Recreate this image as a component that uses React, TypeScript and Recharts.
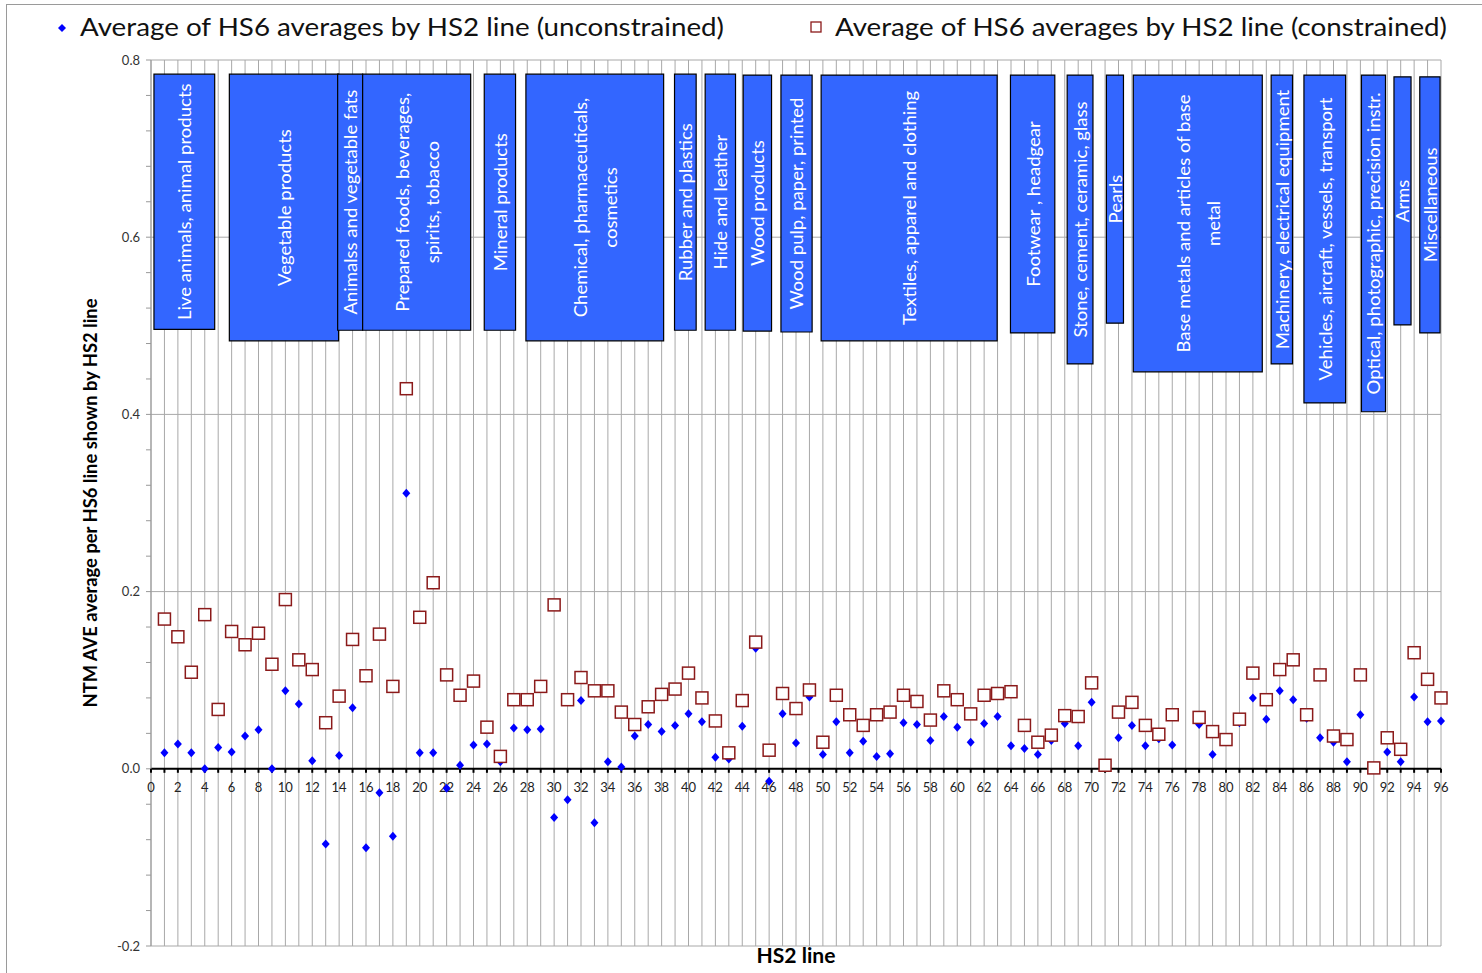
import React from "react";
import {
	CartesianGrid,
	Label,
	ReferenceArea,
	ReferenceDot,
	ReferenceLine,
	Scatter,
	ScatterChart,
	XAxis,
	YAxis,
} from "recharts";

// HS2 chapters 1..96
const hs2Lines = [
	1, 2, 3, 4, 5, 6, 7, 8, 9, 10, 11, 12, 13, 14, 15, 16, 17, 18, 19, 20, 21,
	22, 23, 24, 25, 26, 27, 28, 29, 30, 31, 32, 33, 34, 35, 36, 37, 38, 39, 40,
	41, 42, 43, 44, 45, 46, 47, 48, 49, 50, 51, 52, 53, 54, 55, 56, 57, 58, 59,
	60, 61, 62, 63, 64, 65, 66, 67, 68, 69, 70, 71, 72, 73, 74, 75, 76, 77, 78,
	79, 80, 81, 82, 83, 84, 85, 86, 87, 88, 89, 90, 91, 92, 93, 94, 95, 96,
];

// Average of HS6 averages by HS2 line (unconstrained)
const unconstrained: (number | null)[] = [
	0.018, 0.028, 0.018, 0.0, 0.024, 0.019, 0.037, 0.044, 0.0, 0.088, 0.073,
	0.009, -0.085, 0.015, 0.069, -0.089, -0.027, -0.076, 0.311, 0.018, 0.018,
	-0.022, 0.004, 0.027, 0.028, 0.008, 0.046, 0.044, 0.045, -0.055, -0.035,
	0.077, -0.061, 0.008, 0.002, 0.037, 0.05, 0.042, 0.049, 0.062, 0.053, 0.013,
	0.011, 0.048, 0.136, -0.014, 0.062, 0.029, 0.081, 0.016, 0.053, 0.018,
	0.031, 0.014, 0.017, 0.052, 0.05, 0.032, 0.059, 0.047, 0.03, 0.051, 0.059,
	0.026, 0.023, 0.016, 0.032, 0.051, 0.026, 0.075, 0.003, 0.035, 0.049,
	0.026, 0.034, 0.027, null, 0.05, 0.016, 0.031, 0.052, 0.08, 0.056, 0.088,
	0.078, 0.057, 0.035, 0.03, 0.008, 0.061, 0.0, 0.019, 0.008, 0.081, 0.053,
	0.054,
];

// Average of HS6 averages by HS2 line (constrained)
const constrained: (number | null)[] = [
	0.169, 0.149, 0.109, 0.174, 0.067, 0.155, 0.14, 0.153, 0.118, 0.191, 0.123,
	0.112, 0.052, 0.082, 0.146, 0.105, 0.152, 0.093, 0.429, 0.171, 0.21, 0.106,
	0.083, 0.099, 0.047, 0.014, 0.078, 0.078, 0.093, 0.185, 0.078, 0.103, 0.088,
	0.088, 0.064, 0.05, 0.07, 0.084, 0.09, 0.108, 0.08, 0.054, 0.018, 0.077,
	0.143, 0.021, 0.085, 0.068, 0.089, 0.03, 0.083, 0.061, 0.049, 0.061, 0.064,
	0.083, 0.076, 0.055, 0.088, 0.078, 0.062, 0.083, 0.085, 0.087, 0.049, 0.03,
	0.038, 0.06, 0.059, 0.097, 0.004, 0.064, 0.075, 0.049, 0.039, 0.061, null,
	0.058, 0.042, 0.033, 0.056, 0.108, 0.078, 0.112, 0.123, 0.061, 0.106, 0.037,
	0.033, 0.106, 0.001, 0.035, 0.022, 0.131, 0.101, 0.08,
];

// section boxes ("|" marks a line break)
const sectionLabels = [
	"Live animals, animal products",
	"Vegetable products",
	"Animalss and vegetable fats",
	"Prepared foods, beverages,|spirits, tobacco",
	"Mineral products",
	"Chemical, pharmaceuticals,|cosmetics",
	"Rubber and plastics",
	"Hide and  leather",
	"Wood products",
	"Wood pulp, paper, printed",
	"Textiles, apparel and clothing",
	"Footwear , headgear",
	"Stone, cement, ceramic, glass",
	"Pearls",
	"Base metals and articles of base|metal",
	"Machinery, electrical equipment",
	"Vehicles, aircraft, vessels, transport",
	"Optical, photographic, precision instr.",
	"Arms",
	"Miscellaneous",
];
const sectionStart = [
	0.22, 5.83, 13.89, 15.75, 24.8, 27.9, 38.96, 41.24, 44.07, 46.88, 49.87,
	63.96, 68.18, 71.1, 73.1, 83.36, 85.8, 90.08, 92.5, 94.42,
];
const sectionEnd = [
	4.74, 13.96, 15.75, 23.79, 27.13, 38.15, 40.57, 43.5, 46.18, 49.2, 62.97,
	67.26, 70.1, 72.37, 82.7, 84.95, 88.9, 91.87, 93.77, 95.93,
];
const sectionBottom = [
	0.496, 0.483, 0.495, 0.495, 0.495, 0.483, 0.495, 0.495, 0.494, 0.493, 0.483,
	0.492, 0.457, 0.503, 0.448, 0.457, 0.413, 0.403, 0.501, 0.492,
];
const sectionTop = [
	0.784, 0.784, 0.784, 0.784, 0.784, 0.784, 0.784, 0.784, 0.783, 0.783, 0.783,
	0.783, 0.783, 0.783, 0.783, 0.783, 0.783, 0.783, 0.781, 0.781,
];

const xTicks = [
	0, 1, 2, 3, 4, 5, 6, 7, 8, 9, 10, 11, 12, 13, 14, 15, 16, 17, 18, 19, 20, 21,
	22, 23, 24, 25, 26, 27, 28, 29, 30, 31, 32, 33, 34, 35, 36, 37, 38, 39, 40,
	41, 42, 43, 44, 45, 46, 47, 48, 49, 50, 51, 52, 53, 54, 55, 56, 57, 58, 59,
	60, 61, 62, 63, 64, 65, 66, 67, 68, 69, 70, 71, 72, 73, 74, 75, 76, 77, 78,
	79, 80, 81, 82, 83, 84, 85, 86, 87, 88, 89, 90, 91, 92, 93, 94, 95, 96,
];
const yTicks = [
	-0.2, -0.16, -0.12, -0.08, -0.04, 0, 0.04, 0.08, 0.12, 0.16, 0.2, 0.24, 0.28,
	0.32, 0.36, 0.4, 0.44, 0.48, 0.52, 0.56, 0.6, 0.64, 0.68, 0.72, 0.76, 0.8,
];
const yMajor = [-0.2, 0, 0.2, 0.4, 0.6, 0.8];

const FONT = "Lato, 'Open Sans', sans-serif";
const BLUE = "#0000ff";
const RED = "#8b1a1a";

const blueData = hs2Lines
	.map((x, i) => ({ x, y: unconstrained[i] }))
	.filter((d) => d.y !== null);
const redData = hs2Lines
	.map((x, i) => ({ x, y: constrained[i] }))
	.filter((d) => d.y !== null);

const isMajor = (v: number) => Math.abs(v * 5 - Math.round(v * 5)) < 1e-6;

function Diamond(props: any) {
	const { cx, cy } = props;
	return (
		<path
			d={`M${cx},${cy - 4.5} L${cx + 4},${cy} L${cx},${cy + 4.5} L${cx - 4},${cy} Z`}
			fill={BLUE}
		/>
	);
}

function HollowSquare(props: any) {
	const { cx, cy } = props;
	return (
		<rect
			x={cx - 6}
			y={cy - 6}
			width={12}
			height={12}
			fill="#fff"
			stroke={RED}
			strokeWidth={1.5}
		/>
	);
}

function SectionLabel({ viewBox, text }: { viewBox: any; text: string }) {
	if (!viewBox) return null;
	const cx = viewBox.x + viewBox.width / 2;
	const cy = viewBox.y + viewBox.height / 2;
	const lines = text.split("|");
	return (
		<text
			transform={`translate(${cx},${cy}) rotate(-90) scale(1.03,1)`}
			fill="#fff"
			fontSize={18}
			fontFamily={FONT}
			textAnchor="middle"
			dominantBaseline="central"
		>
			{lines.map((line, k) => (
				<tspan key={k} x={0} y={(k - (lines.length - 1) / 2) * 30}>
					{line}
				</tspan>
			))}
		</text>
	);
}

function ZeroTick(props: any) {
	const { cx, cy, value } = props;
	return (
		<g>
			<line x1={cx} x2={cx} y1={cy} y2={cy + 4} stroke="#000" strokeWidth={2} />
			{value % 2 === 0 && (
				<text
					x={cx}
					y={cy + 23}
					textAnchor="middle"
					fontSize={13}
					fontFamily={FONT}
					fill="#222"
				>
					{value}
				</text>
			)}
		</g>
	);
}

export default function App() {
	return (
		<div
			style={{
				position: "relative",
				width: 1482,
				height: 973,
				overflow: "hidden",
				background: "#fff",
				fontFamily: FONT,
			}}
		>
			<style>{"body{margin:0}"}</style>
			<div
				style={{
					position: "absolute",
					left: 6,
					top: 4,
					width: 1500,
					height: 1000,
					border: "1px solid #9a9a9a",
				}}
			/>
			<svg
				width={1482}
				height={56}
				style={{ position: "absolute", left: 0, top: 0 }}
			>
				<path d="M62,24 L66,28 L62,32 L58,28 Z" fill={BLUE} />
				<text
					x={80}
					y={36}
					fontSize={25}
					fontFamily={FONT}
					fill="#111"
					textLength={644}
					lengthAdjust="spacingAndGlyphs"
				>
					Average of HS6 averages by HS2 line (unconstrained)
				</text>
				<rect
					x={811}
					y={22}
					width={10}
					height={10}
					fill="#fff"
					stroke={RED}
					strokeWidth={1.3}
				/>
				<text
					x={835}
					y={36}
					fontSize={25}
					fontFamily={FONT}
					fill="#111"
					textLength={612}
					lengthAdjust="spacingAndGlyphs"
				>
					Average of HS6 averages by HS2 line (constrained)
				</text>
			</svg>
			<div style={{ position: "absolute", left: 0, top: 0 }}>
				<ScatterChart
					width={1482}
					height={973}
					margin={{ top: 60, right: 41, bottom: 0, left: 106 }}
				>
					<CartesianGrid stroke="#a8a8a8" horizontalValues={yMajor} />
					<XAxis
						type="number"
						dataKey="x"
						domain={[0, 96]}
						ticks={xTicks}
						interval={0}
						tick={() => <g />}
						tickLine={false}
						axisLine={false}
						height={27}
					>
						<Label
							content={(p: any) => (
								<text
									x={p.viewBox.x + p.viewBox.width / 2}
									y={p.viewBox.y + 17}
									textAnchor="middle"
									fontSize={20}
									fontWeight="bold"
									fontFamily={FONT}
									fill="#000"
									textLength={79}
									lengthAdjust="spacingAndGlyphs"
								>
									HS2 line
								</text>
							)}
						/>
					</XAxis>
					<YAxis
						type="number"
						dataKey="y"
						domain={[-0.2, 0.8]}
						ticks={yTicks}
						interval={0}
						width={45}
						tickSize={5}
						tickMargin={6}
						tickLine={{ stroke: "#999" }}
						axisLine={{ stroke: "#999" }}
						tick={{ fontSize: 13, fill: "#333", fontFamily: FONT }}
						tickFormatter={(v: number) => (isMajor(v) ? v.toFixed(1) : "")}
					>
						<Label
							content={(p: any) => (
								<text
									transform={`translate(${p.viewBox.x - 16},${
										p.viewBox.y + p.viewBox.height / 2
									}) rotate(-90)`}
									textAnchor="middle"
									dominantBaseline="central"
									fontSize={18}
									fontWeight="bold"
									fontFamily={FONT}
									fill="#000"
									textLength={409}
									lengthAdjust="spacingAndGlyphs"
								>
									NTM AVE average per HS6 line shown by HS2 line
								</text>
							)}
						/>
					</YAxis>
					{sectionLabels.map((label, i) => (
						<ReferenceArea
							key={label}
							x1={sectionStart[i]}
							x2={sectionEnd[i]}
							y1={sectionBottom[i]}
							y2={sectionTop[i]}
							fill="#3366ff"
							fillOpacity={1}
							stroke="#000"
							strokeWidth={1.2}
							ifOverflow="visible"
							label={(p: any) => <SectionLabel viewBox={p.viewBox} text={label} />}
						/>
					))}
					<ReferenceLine y={0} stroke="#000" strokeWidth={2} ifOverflow="visible" />
					{xTicks.map((t) => (
						<ReferenceDot
							key={t}
							x={t}
							y={0}
							r={0}
							ifOverflow="visible"
							shape={(p: any) => <ZeroTick {...p} value={t} />}
						/>
					))}
					<Scatter
						name="Average of HS6 averages by HS2 line (unconstrained)"
						data={blueData}
						shape={<Diamond />}
						isAnimationActive={false}
					/>
					<Scatter
						name="Average of HS6 averages by HS2 line (constrained)"
						data={redData}
						shape={<HollowSquare />}
						isAnimationActive={false}
					/>
				</ScatterChart>
			</div>
		</div>
	);
}
